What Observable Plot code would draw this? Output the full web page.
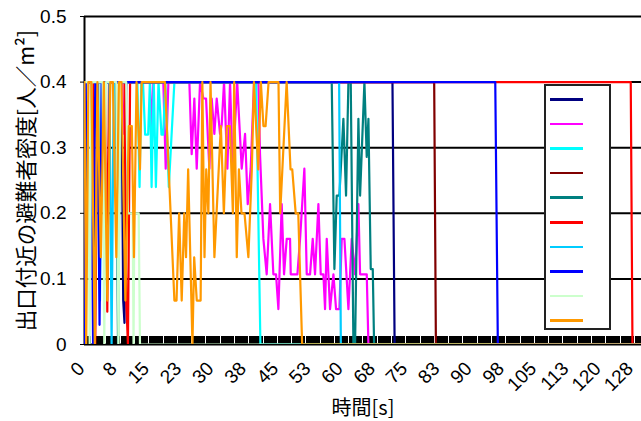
<!DOCTYPE html>
<html>
<head>
<meta charset="utf-8">
<script src="https://cdn.jsdelivr.net/npm/d3@7"></script>
<script src="https://cdn.jsdelivr.net/npm/@observablehq/plot@0.6"></script>
<style>
  html, body { margin: 0; padding: 0; background: #fff; overflow: hidden; }
  #wrap { position: relative; width: 641px; height: 421px; }
  #legend { position: absolute; left: 544px; top: 84px; width: 63px; height: 242px;
            border: 2px solid #222; background: #fff; }
  #legend .sw { position: absolute; left: 4px; width: 33px; height: 2.5px; }
</style>
</head>
<body>
<div id="wrap"><div id="legend"></div></div>
<script>
// ---- data (time [s], density [人/m²]) ----
const seriesColors = ["#000080","#FF00FF","#00FFFF","#800000","#008080","#FF0000","#00CCFF","#0000FF","#CCFFCC","#FF9900"];

const navySeries = [[0,0],[0.4,0.4],[8.6,0.4],[9.0,0.067],[9.3,0.033],[9.7,0.4],[71.6,0.4],[72.1,0],[129.3,0]];

const magentaSeries = [[0,0],[0.4,0.4],[8.7,0.4],[9.2,0.321],[9.7,0.4],[15.23,0.4],[15.62,0.321],[16.01,0.4],
  [18.33,0.4],[18.88,0.268],[19.5,0.4],[24.38,0.4],[24.92,0.29],[25.54,0.375],[26.09,0.268],[26.86,0.4],
  [27.64,0.375],[28.26,0.375],[29.03,0.268],[29.57,0.375],[30.19,0.321],[30.74,0.375],[31.51,0.321],[31.9,0.335],
  [32.44,0.4],[33.22,0.268],[33.84,0.4],[34.46,0.268],[35.5,0.4],[36.55,0.268],[37.33,0.321],[37.95,0.214],
  [38.64,0.268],[39.42,0.4],[40.43,0.4],[40.81,0.29],[41.59,0.161],[42.36,0.107],[43.14,0.214],[43.91,0.107],
  [44.53,0.107],[45.08,0.054],[45.85,0.214],[46.39,0.107],[47.02,0.161],[47.79,0.161],[47.95,0.107],[49.5,0.107],
  [50.12,0.161],[51.12,0.268],[51.67,0.107],[52.44,0.107],[53.06,0.161],[53.6,0.107],[54.38,0.214],[54.92,0.107],
  [55.54,0.107],[55.93,0.054],[56.32,0.161],[57.09,0.054],[57.87,0.107],[58.49,0.054],[59.26,0.054],[59.81,0.161],
  [60.43,0.161],[61.36,0.054],[62.13,0.161],[62.91,0.107],[63.68,0.214],[64.07,0.107],[65.62,0.107],[66.01,0],[129.3,0]];

const cyanSeries = [[0,0],[0.5,0.4],[12.3,0.4],[12.8,0.24],[13.2,0.4],[13.6,0.4],[14.1,0.32],[14.8,0.32],[15.2,0.4],
  [15.6,0.24],[16.1,0.4],[16.6,0.24],[17.2,0.4],[17.9,0.32],[18.3,0.32],[18.8,0.4],[19.6,0.24],[20.9,0.4],
  [39.9,0.4],[40.9,0],[129.3,0]];

const maroonSeries = [[0,0],[0.5,0.4],[81.3,0.4],[81.7,0],[129.3,0]];

const tealSeries = [[0,0],[0.5,0.4],[7.3,0.4],[7.8,0],[8.3,0.4],[57.48,0.4],[58.1,0.115],[58.64,0.227],[59.26,0.227],
  [60.19,0.344],[60.81,0.227],[61.36,0.4],[61.9,0.4],[62.52,0],[62.91,0],[63.68,0.344],[64.07,0.227],[65.08,0.4],
  [65.62,0.286],[66.01,0.344],[66.55,0.115],[67.02,0.115],[67.33,0],[129.3,0]];

const redSeries = [[0,0],[0.5,0.4],[2.0,0.4],[2.5,0],[3.0,0.4],[4.9,0.4],[5.3,0.05],[5.7,0.4],[9.3,0.4],[9.7,0.067],
  [10.1,0],[10.6,0.4],[127.0,0.4],[127.4,0],[129.3,0]];

const skySeries = [[0,0],[0.5,0.4],[3.2,0.4],[3.6,0.067],[4.0,0.4],[5.8,0.4],[6.3,0],[6.8,0.4],[59.2,0.4],[59.6,0],[129.3,0]];

const blueSeries = [[0,0],[0.4,0.4],[1.5,0.4],[2.0,0],[2.5,0.4],[3.0,0.4],[3.5,0.03],[4.0,0.4],[95.5,0.4],[96.1,0],[129.3,0]];

const lightGreenSeries = [[0,0.4],[0.8,0.4],[1.2,0],[1.6,0.4],[4.2,0.4],[4.6,0],[5.0,0.4],[7.4,0.4],[7.9,0],[8.3,0.4],
  [9.7,0.4],[10.1,0.2],[11.2,0.2],[11.4,0],[11.6,0.2],[12.6,0.2],[12.9,0],[129.3,0]];

const orangeSeries = [[0,0.4],[0.4,0],[0.9,0.4],[1.6,0.4],[2.4,0],[3.0,0.4],[3.8,0.133],[4.5,0.4],[5.3,0.067],[6.0,0.4],
  [6.6,0.4],[7.4,0.133],[8.0,0.4],[8.6,0.4],[9.5,0.067],[10.3,0.333],[11.0,0.333],[11.5,0.133],[12.1,0.4],[12.9,0.267],
  [13.3,0.4],[18.7,0.4],[20.9,0.067],[21.4,0.067],[22.0,0.2],[22.6,0.067],[23.2,0.2],[23.6,0.133],[24.1,0.267],
  [25.1,0],[25.5,0.133],[26.1,0.067],[27.0,0.067],[27.4,0.4],[27.9,0.133],[28.3,0.267],[28.8,0.2],[29.3,0.4],
  [30.2,0.133],[31.7,0.333],[32.4,0.2],[33.1,0.333],[33.8,0.333],[34.5,0.2],[34.8,0.4],[35.4,0.133],[35.9,0.267],
  [36.5,0.2],[37.2,0.2],[38.1,0.133],[38.9,0.267],[39.4,0.4],[40.4,0.267],[41.0,0.4],[41.6,0.333],[42.1,0.333],
  [42.8,0.4],[45.1,0.4],[45.5,0.2],[47.0,0.4],[47.9,0.267],[48.3,0.267],[49.1,0.2],[49.7,0.2],[50.3,0.067],
  [50.6,0],[129.3,0]];

const allSeries = [navySeries, magentaSeries, cyanSeries, maroonSeries, tealSeries, redSeries, skySeries, blueSeries, lightGreenSeries, orangeSeries];

const xTickTimes = [0,7.5,15,22.5,30,37.5,45,52.5,60,67.5,75,82.5,90,97.5,105,112.5,120,127.5];
const xTickLabels = ["0","8","15","23","30","38","45","53","60","68","75","83","90","98","105","113","120","128"];
const yTickValues = [0,0.1,0.2,0.3,0.4,0.5];
const yTickLabels = ["0","0.1","0.2","0.3","0.4","0.5"];
const gridValues = [0.1,0.2,0.3,0.4];
const categoryTimes = d3.range(0, 518).map(i => i * 0.25);
const xTitle = "時間[s]";
const yTitle = "出口付近の避難者密度[人／m²]";

const xLabelMap = new Map(xTickTimes.map((t, i) => [t, xTickLabels[i]]));
const yLabelMap = new Map(yTickValues.map((v, i) => [v, yTickLabels[i]]));

const chart = Plot.plot({
  width: 641, height: 421,
  marginLeft: 84, marginRight: 0, marginTop: 16, marginBottom: 77,
  x: {domain: [0, 129.5]},
  y: {domain: [0, 0.5]},
  style: {fontFamily: "'Liberation Sans', Arial, sans-serif", background: "transparent", color: "#000", overflow: "visible"},
  marks: [
    Plot.ruleY(gridValues, {stroke: "#000", strokeWidth: 2}),
    Plot.ruleY([0.5], {stroke: "#000", strokeWidth: 2}),
    Plot.ruleX(categoryTimes, {x: d => d, y1: 0, y2: 0.0125, stroke: "#000", strokeWidth: 1, shapeRendering: "crispEdges"}),
    Plot.axisY({ticks: yTickValues, tickFormat: d => yLabelMap.get(d), tickSize: 4, tickPadding: 14, fontSize: 19, label: null}),
    Plot.axisX({ticks: xTickTimes, tickFormat: d => xLabelMap.get(d), tickRotate: -45, tickSize: 0, tickPadding: 21, dx: -3, fontSize: 19, label: null}),
    Plot.ruleX([0], {stroke: "#000", strokeWidth: 2}),
    Plot.ruleY([0], {stroke: "#000", strokeWidth: 2}),
    ...allSeries.map((pts, k) => Plot.line(pts, {x: d => d[0], y: d => d[1], stroke: seriesColors[k], strokeWidth: 2.2, clip: true})),
    Plot.text([xTitle], {frameAnchor: "bottom", dy: 70, fontSize: 20, fontFamily: "'Noto Sans CJK JP', sans-serif", fill: "#000"}),
    Plot.text([yTitle], {frameAnchor: "left", textAnchor: "middle", dx: -57, rotate: -90, fontSize: 21.5, fontFamily: "'Noto Sans CJK JP', sans-serif", fill: "#000"})
  ]
});
document.getElementById("wrap").prepend(chart);

const legend = document.getElementById("legend");
seriesColors.forEach((c, i) => {
  const s = document.createElement("div");
  s.className = "sw";
  s.style.top = (12 + i * 24.6) + "px";
  s.style.background = c;
  legend.appendChild(s);
});
</script>
</body>
</html>
